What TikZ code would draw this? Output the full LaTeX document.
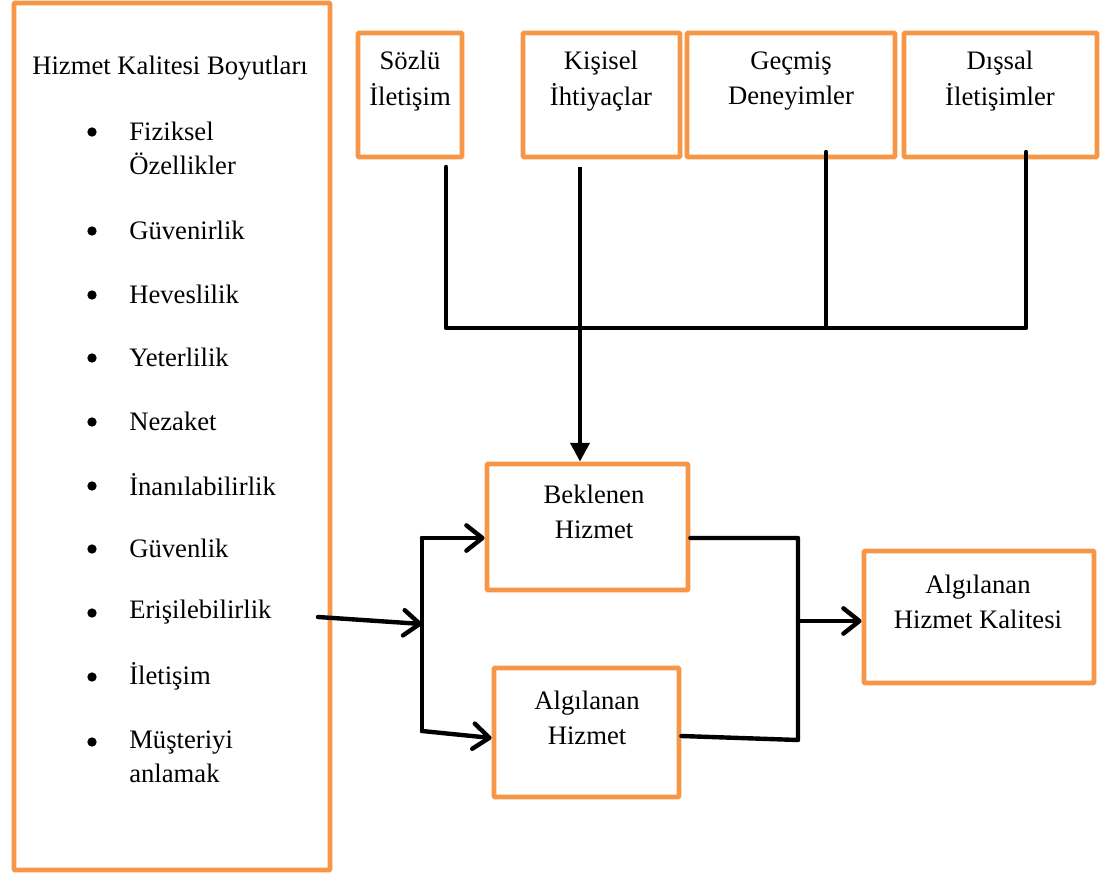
\documentclass[tikz,border=0pt]{standalone}
\usepackage{fontspec}
\setmainfont{Liberation Serif}
\newfontfamily\tnr{Liberation Serif}
\usetikzlibrary{arrows.meta,fit}
\definecolor{boxorange}{HTML}{F79646}
\tikzset{
  box/.style={draw=boxorange, line width=3.6pt, inner sep=0pt, rounded corners=0.8pt},
  txt/.style={align=center, font=\tnr\fontsize{20}{26.5}\selectfont, inner sep=0pt},
  item/.style={anchor=west, align=left, font=\tnr\fontsize{20}{25.5}\selectfont, inner sep=0pt},
  bul/.style={circle, fill=black, inner sep=0pt, minimum size=7pt},
  ln/.style={draw=black, line width=3.3pt, line cap=round, line join=round},
  openarrow/.style={ln, -{Straight Barb[length=12pt,width=19pt,round]}},
  fillarrow/.style={ln, line cap=butt, -{Triangle[length=14pt,width=14pt]}}
}
\begin{document}
\begin{tikzpicture}[x=0.75pt,y=-0.75pt]
\useasboundingbox (0,0) rectangle (1101,874);
% left box
\node[box, fit={(14,3) (330,870)}] (boyut) {};
\node[txt] (title) at (170,68) {Hizmet Kalitesi Boyutları};
\foreach \y/\t/\n in {148/{Fiziksel\\Özellikler}/i1, 230/Güvenirlik/i2, 294/Heveslilik/i3, 357/Yeterlilik/i4, 421/Nezaket/i5, 485/İnanılabilirlik/i6, 548/Güvenlik/i7, 612/Erişilebilirlik/i8, 676/İletişim/i9, 757/{Müşteriyi\\anlamak}/i10}{
  \node[item] (\n) at (129,\y) {\t};
}
\foreach \y/\n in {132/b1, 231/b2, 295/b3, 358/b4, 422/b5, 486/b6, 549/b7, 613/b8, 677/b9, 742/b10}{
  \node[bul] (\n) at (92,\y) {};
}
% top boxes
\node[box, fit={(358,33) (462,157)}] (sozlu) {};
\node[txt] (sozlut) at (410,81) {Sözlü\\İletişim};
\node[box, fit={(523,33) (680,157)}] (kisisel) {};
\node[txt] (kisiselt) at (601,81) {Kişisel\\İhtiyaçlar};
\node[box, fit={(687,33) (895,157)}] (gecmis) {};
\node[txt] (gecmist) at (791,81) {Geçmiş\\Deneyimler};
\node[box, fit={(904,33) (1097,157)}] (dissal) {};
\node[txt] (dissalt) at (1000,81) {Dışsal\\İletişimler};
% middle boxes
\node[box, fit={(487,464) (688,590)}] (beklenen) {};
\node[txt] (beklenent) at (594,512) {Beklenen\\Hizmet};
\node[box, fit={(494,668) (679,797)}] (algilanan) {};
\node[txt] (algilanant) at (587,718) {Algılanan\\Hizmet};
\node[box, fit={(864,551) (1094,683)}] (kalite) {};
\node[txt] (kalitet) at (978,602) {Algılanan\\Hizmet Kalitesi};
% top collector
\coordinate (sTop) at (446,167);
\coordinate (kTop) at (580,167);
\coordinate (gTop) at (826,152);
\coordinate (dTop) at (1026,152);
\coordinate (jS) at (446,328);
\coordinate (jG) at (826,328);
\coordinate (jD) at (1026,328);
\draw[ln] (sTop) -- (jS) -- (jD) -- (dTop);
\draw[ln] (gTop) -- (jG);
\draw[fillarrow] (kTop) -- (beklenen.north -| kTop);
% left fork
\coordinate (eIn) at (318,617);
\coordinate (fork) at (422,624);
\coordinate (fTop) at (422,538);
\coordinate (fBot) at (422,731);
\draw[openarrow] (eIn) -- (fork);
\draw[ln] (fTop) -- (fBot);
\draw[openarrow] (fTop) -- (beklenen.west |- fTop);
\draw[openarrow] (fBot) -- (algilanan.west |- 0,738);
% right join
\coordinate (rTop) at (798,538);
\coordinate (rBot) at (798,740);
\coordinate (rMid) at (798,621);
\draw[ln] (beklenen.east |- rTop) -- (rTop) -- (rBot) -- (algilanan.east |- 0,736);
\draw[openarrow] (rMid) -- (kalite.west |- rMid);
\end{tikzpicture}
\end{document}
